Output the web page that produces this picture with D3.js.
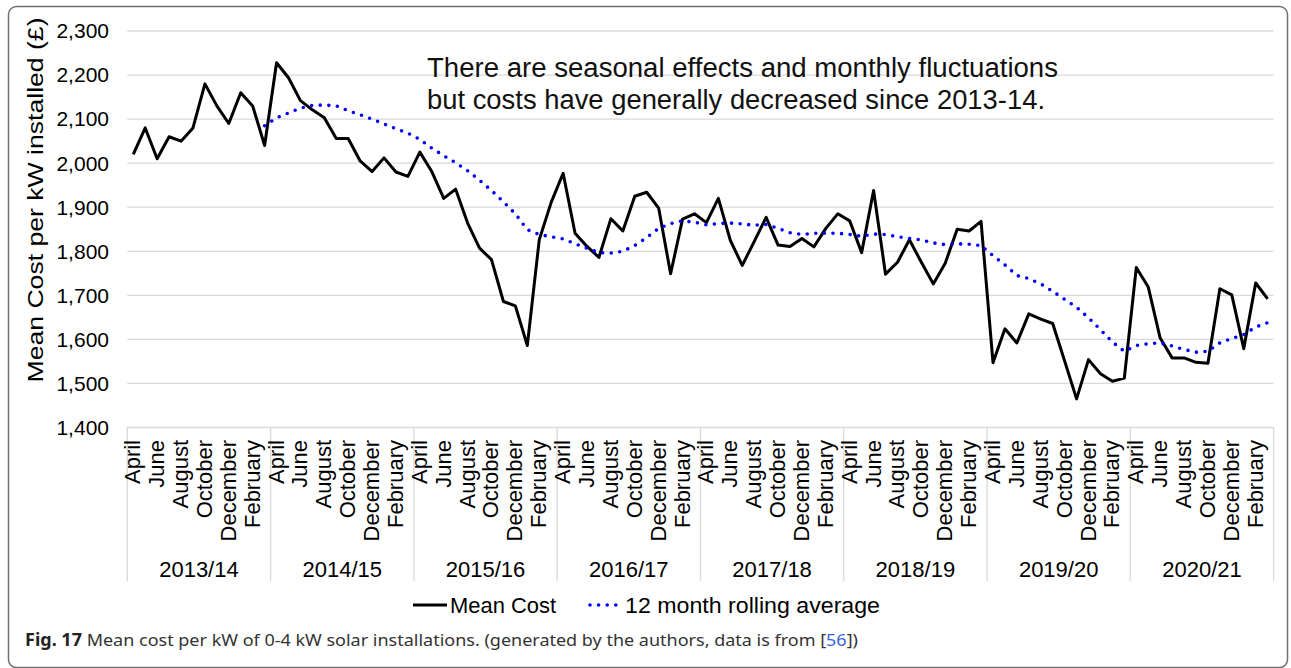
<!DOCTYPE html>
<html><head><meta charset="utf-8">
<script src="https://cdn.jsdelivr.net/npm/d3@7"></script>
<style>html,body{margin:0;padding:0;background:#fff;}svg{display:block;}</style>
</head><body>
<svg id="c" width="1291" height="668"></svg>
<script>
const years = ["2013/14","2014/15","2015/16","2016/17","2017/18","2018/19","2019/20","2020/21"];
const months = ["April","May","June","July","August","September","October","November","December","January","February","March"];
const meanCost = [
 2020,2080,2010,2060,2050,2080,2180,2130,2090,2160,2130,2040,
 2228,2194,2142,2121,2103,2056,2056,2005,1981,2012,1980,1970,
 2025,1981,1920,1941,1864,1807,1781,1686,1676,1586,1826,1911,
 1977,1841,1811,1786,1874,1846,1925,1934,1898,1749,1873,1885,
 1865,1920,1825,1768,1822,1877,1814,1811,1829,1810,1852,1885,
 1869,1797,1938,1748,1775,1826,1775,1726,1773,1850,1846,1868,
 1547,1624,1592,1658,1646,1636,1551,1465,1554,1522,1505,1512,
 1763,1719,1603,1558,1558,1548,1546,1715,1701,1579,1728,1692];
const rolling = [
 null,null,null,null,null,null,null,null,null,null,null,2085,
 2103,2114,2125,2131,2132,2130,2119,2110,2100,2089,2078,2068,
 2054,2034,2017,2001,1983,1961,1938,1912,1885,1849,1838,1833,
 1828,1817,1807,1797,1796,1800,1813,1831,1852,1863,1869,1866,
 1860,1863,1864,1862,1859,1861,1852,1842,1838,1841,1841,1841,
 1838,1834,1839,1838,1833,1829,1826,1819,1815,1817,1816,1813,
 1790,1769,1745,1738,1726,1709,1691,1673,1649,1622,1594,1573,
 1586,1590,1592,1585,1577,1571,1573,1592,1602,1611,1628,1638];
const yTicks = [1400,1500,1600,1700,1800,1900,2000,2100,2200,2300];
const seriesNames = ["Mean Cost","12 month rolling average"];
const annotation = ["There are seasonal effects and monthly fluctuations","but costs have generally decreased since 2013-14."];

const svg = d3.select("#c");
const L = 127.3, R = 1273.6, T = 31, B = 427.5;
const idx = d3.range(meanCost.length);
const x = d3.scaleBand().domain(idx).range([L, R]).padding(0);
const cx = i => x(i) + x.bandwidth()/2;
const y = d3.scaleLinear().domain([1400,2300]).range([B, T]);
const FONT = "'Liberation Sans', Arial, sans-serif";

// border
svg.append("rect").attr("x",8.5).attr("y",6.5).attr("width",1279).attr("height",661)
  .attr("rx",8).attr("fill","none").attr("stroke","#707070").attr("stroke-width",1.5);

// grid
svg.append("g").selectAll("line").data(yTicks).join("line")
  .attr("x1",L).attr("x2",R).attr("y1",d=>y(d)).attr("y2",d=>y(d))
  .attr("stroke","#d9d9d9").attr("stroke-width",1.3);

// y tick labels
svg.append("g").selectAll("text").data(yTicks).join("text")
  .attr("x",109).attr("y",d=>y(d)).attr("dy","0.35em").attr("text-anchor","end")
  .attr("font-family",FONT).attr("font-size",21).attr("fill","#000")
  .text(d3.format(","));

// y title
svg.append("text").attr("transform","translate(43,200) rotate(-90)")
  .attr("text-anchor","middle").attr("font-family",FONT).attr("font-size",22)
  .attr("textLength",365).attr("lengthAdjust","spacingAndGlyphs")
  .text("Mean Cost per kW installed (£)");

// category separators
const yearW = (R-L)/years.length;
svg.append("g").selectAll("line").data(d3.range(years.length+1)).join("line")
  .attr("x1",d=>L+d*yearW).attr("x2",d=>L+d*yearW).attr("y1",B).attr("y2",581)
  .attr("stroke","#d9d9d9").attr("stroke-width",1.3);

// month labels
svg.append("g").selectAll("text").data(idx.filter(i=>i%2===0)).join("text")
  .attr("transform",i=>`translate(${cx(i)+7},440) rotate(-90)`)
  .attr("text-anchor","end").attr("font-family",FONT).attr("font-size",22).attr("fill","#000")
  .text(i=>months[i%12]);

// year labels
svg.append("g").selectAll("text").data(years).join("text")
  .attr("x",(d,i)=>L+(i+0.5)*yearW).attr("y",577).attr("text-anchor","middle")
  .attr("font-family",FONT).attr("font-size",22).attr("fill","#000").text(d=>d);

// lines
const line = d3.line().defined(d=>d[1]!=null).x(d=>cx(d[0])).y(d=>y(d[1]));
svg.append("path").datum(meanCost.map((v,i)=>[i,v])).attr("d",line)
  .attr("fill","none").attr("stroke","#000").attr("stroke-width",3).attr("stroke-linejoin","round");
svg.append("path").datum(rolling.map((v,i)=>[i,v])).attr("d",line)
  .attr("fill","none").attr("stroke","#0000ff").attr("stroke-width",3.6)
  .attr("stroke-linecap","round").attr("stroke-dasharray","0 8.6");

// annotation
const ann = svg.append("g").attr("font-family",FONT).attr("font-size",27).attr("fill","#111");
ann.append("text").attr("x",427).attr("y",77).attr("textLength",631).attr("lengthAdjust","spacingAndGlyphs").text(annotation[0]);
ann.append("text").attr("x",427).attr("y",109).attr("textLength",618).attr("lengthAdjust","spacingAndGlyphs").text(annotation[1]);

// legend
const lg = svg.append("g").attr("font-family",FONT).attr("font-size",22).attr("fill","#000");
lg.append("line").attr("x1",413).attr("x2",447).attr("y1",605).attr("y2",605).attr("stroke","#000").attr("stroke-width",3);
lg.append("text").attr("x",450).attr("y",613).attr("textLength",106).attr("lengthAdjust","spacingAndGlyphs").text(seriesNames[0]);
lg.append("line").attr("x1",590).attr("x2",620).attr("y1",605).attr("y2",605).attr("stroke","#0000ff")
  .attr("stroke-width",3.6).attr("stroke-linecap","round").attr("stroke-dasharray","0 8.6");
lg.append("text").attr("x",625).attr("y",613).attr("textLength",255).attr("lengthAdjust","spacingAndGlyphs").text(seriesNames[1]);

// caption
const cap = svg.append("text").attr("x",25).attr("y",646).attr("font-family","'Noto Sans','Open Sans',sans-serif")
  .attr("font-size",17).attr("fill","#333").attr("textLength",833).attr("lengthAdjust","spacingAndGlyphs");
cap.append("tspan").attr("font-weight","bold").attr("fill","#222").text("Fig. 17");
cap.append("tspan").text(" Mean cost per kW of 0-4 kW solar installations. (generated by the authors, data is from [");
cap.append("tspan").attr("fill","#3b5fd9").text("56");
cap.append("tspan").text("])");
</script>
</body></html>
